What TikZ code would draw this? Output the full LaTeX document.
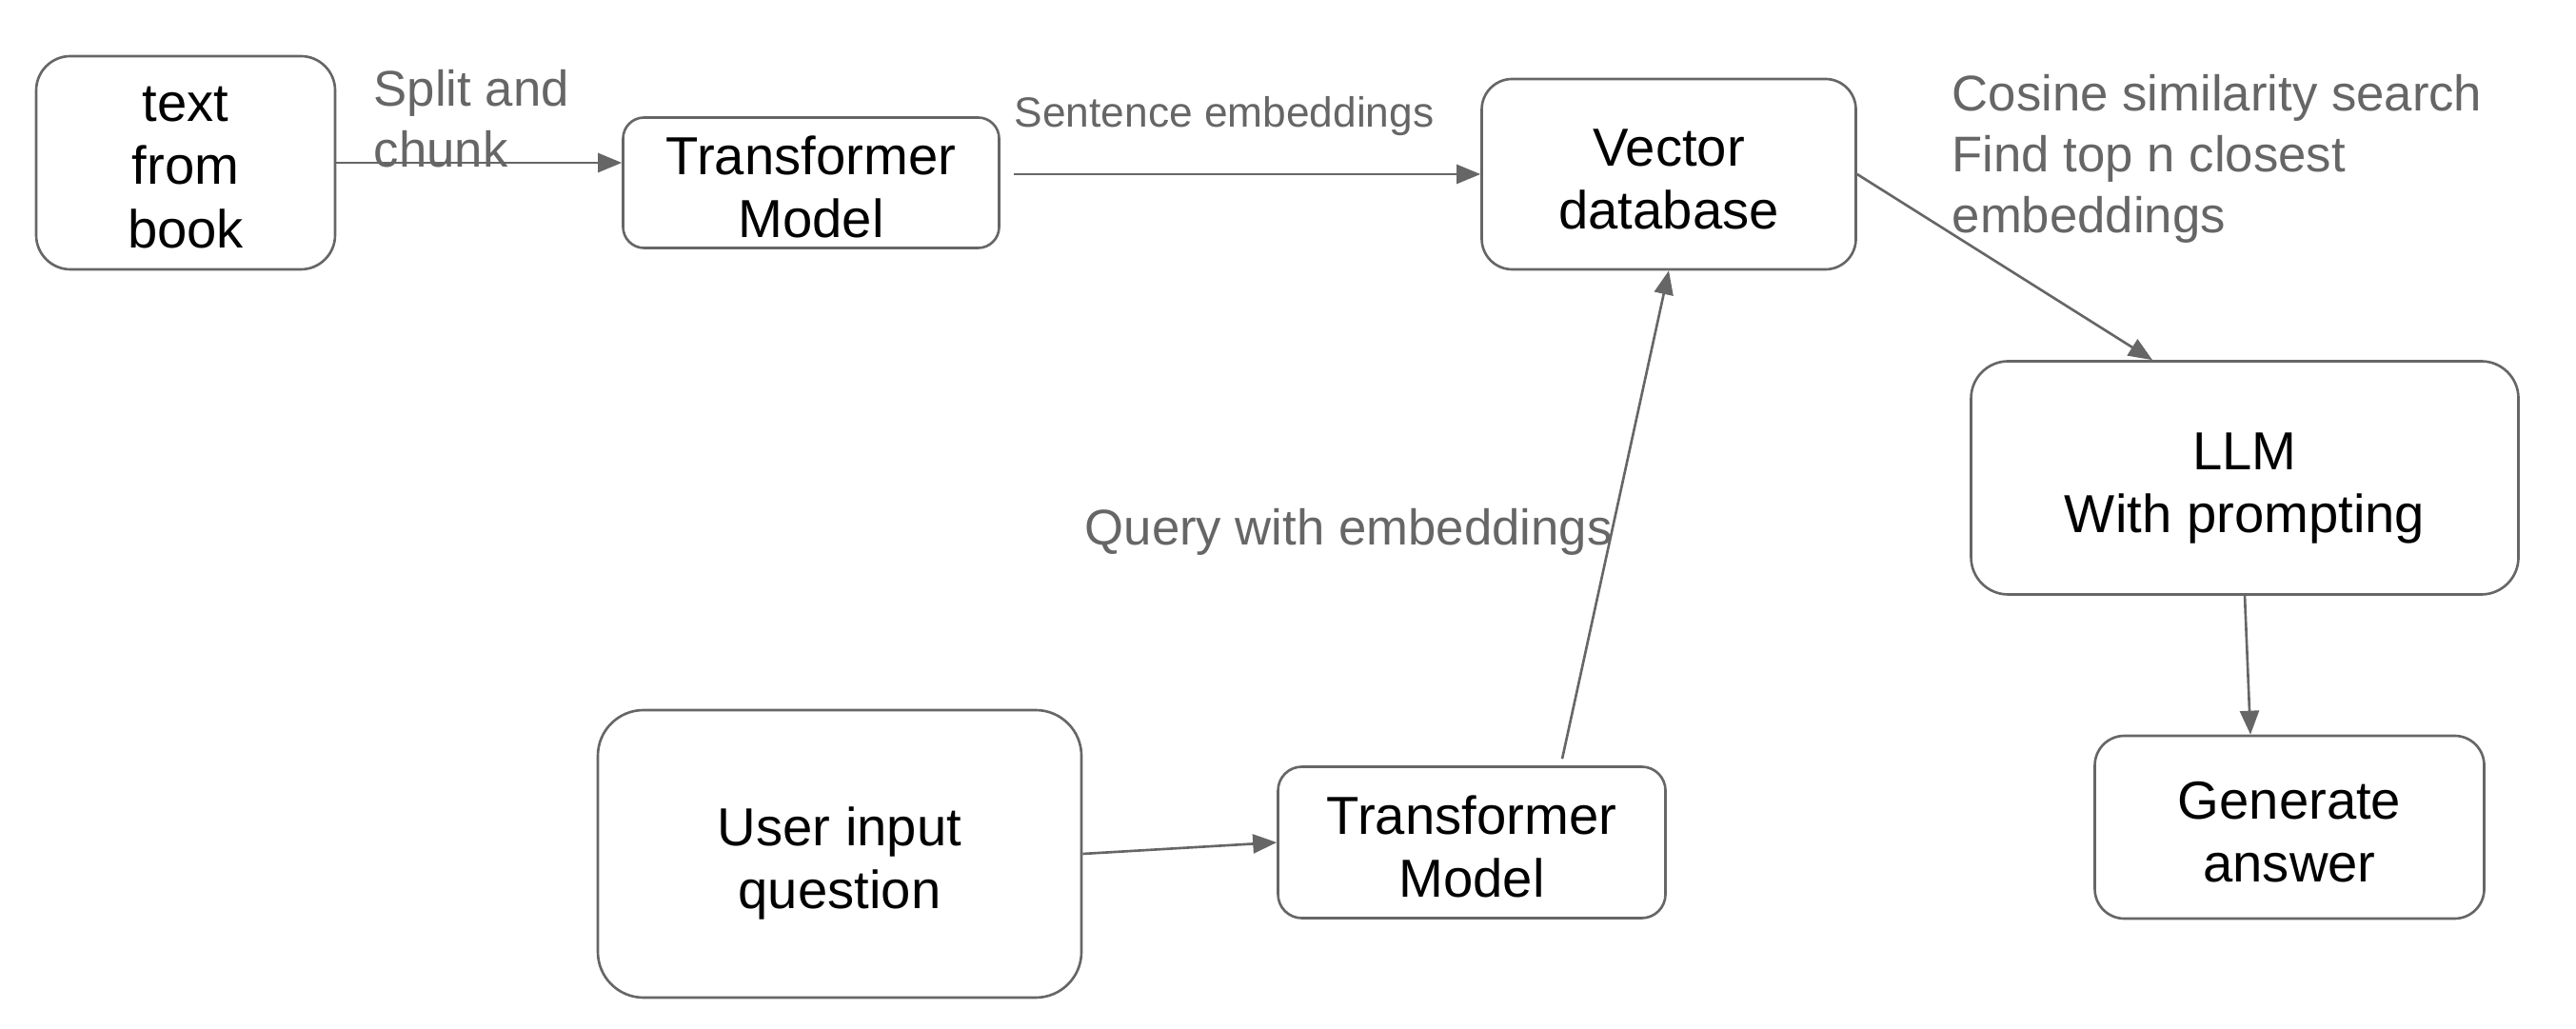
\documentclass[tikz,border=0pt]{standalone}
\usepackage{fontspec}
\setmainfont{Liberation Sans}
\usetikzlibrary{arrows.meta}

\definecolor{linegray}{HTML}{666666}

\tikzset{
  box/.style={draw=linegray, line width=0.75pt, align=center, inner sep=0pt,
    text height=33pt, text depth=0pt, font=\fontsize{16}{19}\selectfont},
  lbl/.style={text=linegray, align=left, inner sep=0pt, anchor=west,
    font=\fontsize{15}{18.2}\selectfont},
  arr/.style={draw=linegray, line width=0.75pt,
    -{Triangle[length=0.25cm,width=0.2cm]}}
}

\begin{document}
\begin{tikzpicture}

  \useasboundingbox (0,0) rectangle (27.06,10.8);

  \node[box, text height=51pt, minimum width=3.14cm, minimum height=2.24cm, rounded corners=0.36cm]
    (book) at (1.95,9.09) {text\\from\\book};
  \node[box, minimum width=3.95cm, minimum height=1.37cm, rounded corners=0.22cm]
    (tfa) at (8.52,8.88) {Transformer\\Model};
  \node[box, minimum width=3.93cm, minimum height=2.00cm, rounded corners=0.32cm]
    (vdb) at (17.53,8.97) {Vector\\database};
  \node[box, minimum width=5.75cm, minimum height=2.45cm, rounded corners=0.39cm]
    (llm) at (23.58,5.78) {LLM\\With prompting};
  \node[box, minimum width=4.09cm, minimum height=1.92cm, rounded corners=0.31cm]
    (gen) at (24.05,2.11) {Generate\\answer};
  \node[box, minimum width=5.08cm, minimum height=3.02cm, rounded corners=0.48cm]
    (user) at (8.82,1.83) {User input\\question};
  \node[box, minimum width=4.07cm, minimum height=1.59cm, rounded corners=0.25cm]
    (tfb) at (15.46,1.95) {Transformer\\Model};

  \node[lbl] (split) at (3.92,9.55) {Split and\\chunk};
  \node[lbl, font=\fontsize{12.6}{15}\selectfont] (sent) at (10.65,9.58) {Sentence embeddings};
  \node[lbl] (cos) at (20.50,9.13) {Cosine similarity search\\Find top n closest\\embeddings};
  \node[lbl] (query) at (11.39,5.21) {Query with embeddings};

  \draw[arr] (book.east) -- (book.east -| tfa.west);
  \draw[arr, shorten <=0.14cm] (tfa.east |- vdb.west) -- (vdb.west);
  \draw[arr] (vdb.east) -- ([xshift=-0.97cm]llm.north);
  \draw[arr] (llm.south) -- ([xshift=-0.41cm]gen.north);
  \draw[arr] (user.east) -- (tfb.west);
  \draw[arr] ([xshift=0.95cm,yshift=0.07cm]tfb.north) -- (vdb.south);

\end{tikzpicture}
\end{document}
